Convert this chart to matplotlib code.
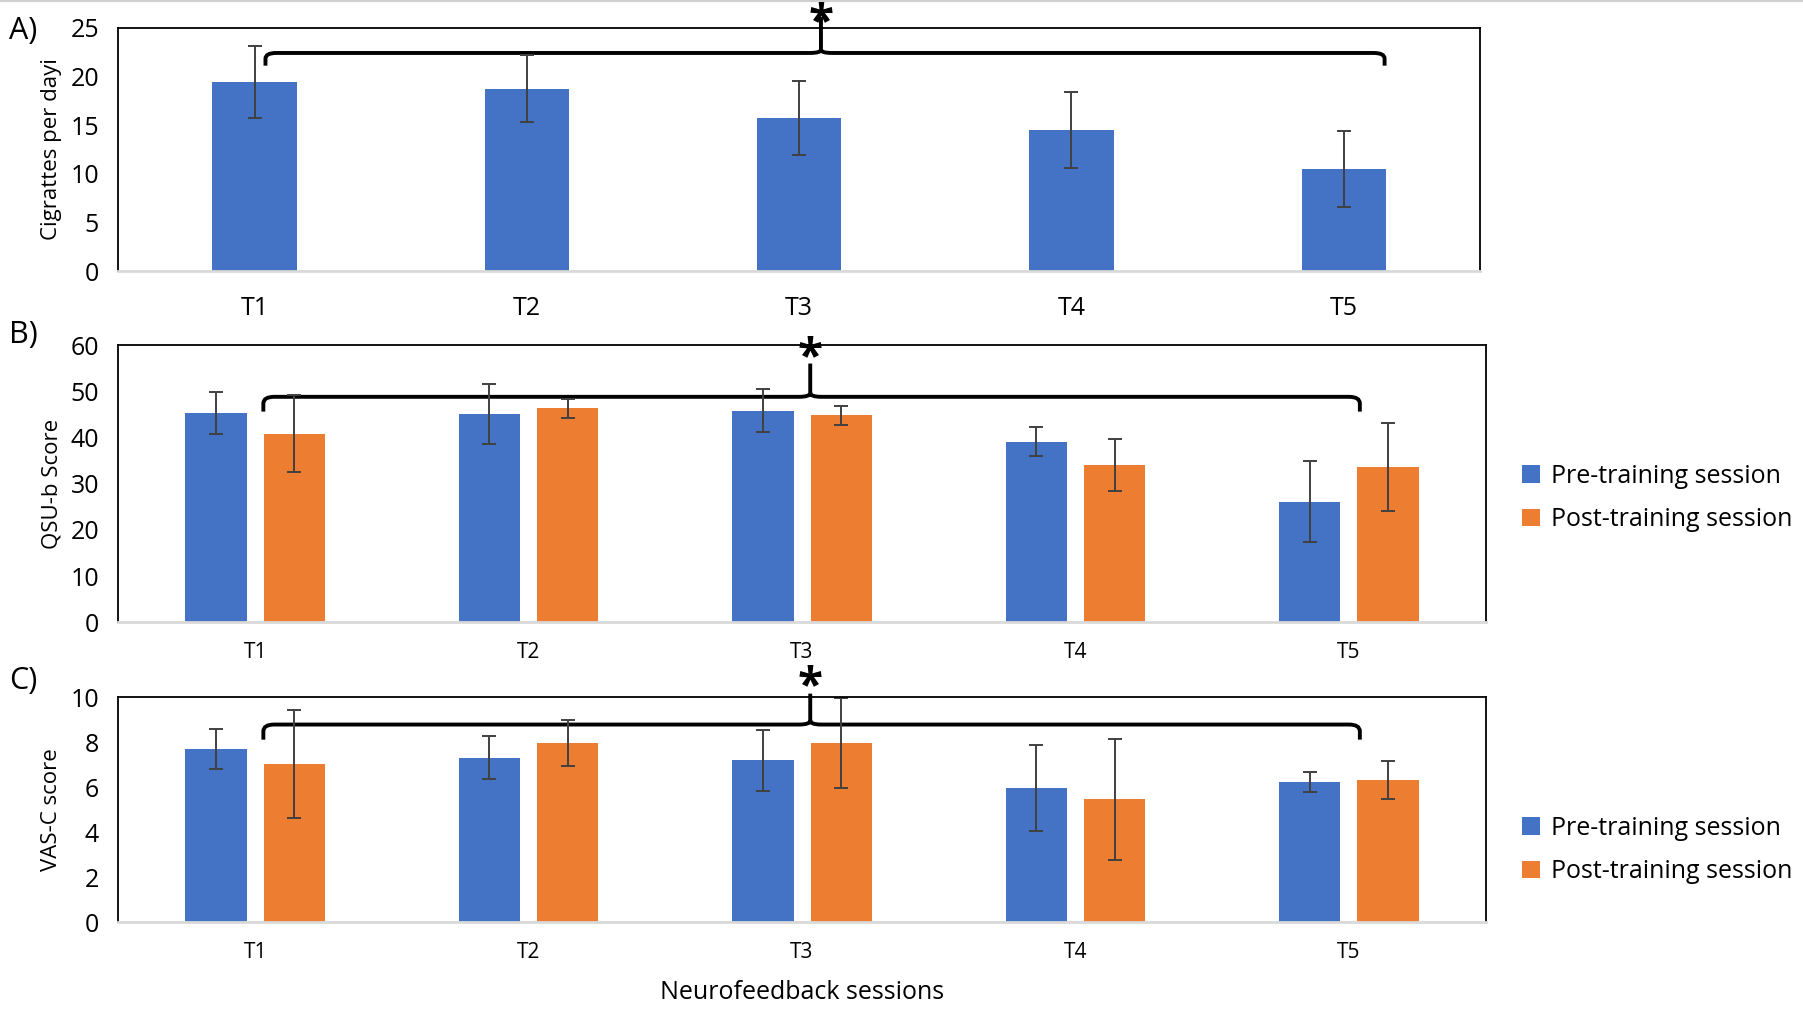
import matplotlib.pyplot as plt
from matplotlib.path import Path
from matplotlib.patches import PathPatch
from matplotlib.lines import Line2D
import numpy as np

plt.rcParams['font.family'] = ['Open Sans', 'DejaVu Sans']

# Data
sessions = ["T1", "T2", "T3", "T4", "T5"]

cig_mean = [19.4, 18.75, 15.7, 14.5, 10.5]
cig_err = [3.7, 3.4, 3.8, 3.9, 3.9]

qsu_pre = [45.3, 45.1, 45.8, 39.1, 26.1]
qsu_pre_err = [4.5, 6.5, 4.6, 3.2, 8.7]
qsu_post = [40.8, 46.3, 44.8, 34.1, 33.6]
qsu_post_err = [8.3, 2.1, 2.1, 5.6, 9.5]

vas_pre = [7.7, 7.3, 7.2, 5.97, 6.22]
vas_pre_err = [0.87, 0.95, 1.35, 1.9, 0.45]
vas_post = [7.04, 7.96, 7.96, 5.46, 6.33]
vas_post_err = [2.4, 1.0, 2.0, 2.7, 0.84]

blue = "#4472C4"
orange = "#ED7D31"
err_kw = dict(ecolor="#404040", elinewidth=1.4, capsize=5, capthick=1.4)

W, H = 1568, 892  # layout measured on this grid

fig = plt.figure(figsize=(18.03, 10.26), dpi=100)
# thin grey rule along the top edge
fig.add_artist(Line2D([0, 1], [0.999, 0.999], color="#d0d0d0", lw=1.5, transform=fig.transFigure))


def make_ax(left, right, top, bottom):
    ax = fig.add_axes([left / W, 1 - bottom / H, (right - left) / W, (bottom - top) / H])
    for s in ["left", "top", "right"]:
        ax.spines[s].set_color("black")
        ax.spines[s].set_linewidth(1.3)
    ax.spines["bottom"].set_color("#d9d9d9")
    ax.spines["bottom"].set_linewidth(2)
    ax.tick_params(length=0, labelsize=18)
    ax.tick_params(axis="y", pad=14)
    ax.set_xlim(-0.5, 4.5)
    return ax


def brace(ax, x0, x1, xm, y, drop, rise, dx=0.04):
    d1 = drop * 0.45
    verts = [(x0, y - drop), (x0, y - d1), (x0, y), (x0 + dx, y),
             (xm - dx, y), (xm, y), (xm, y + d1 * 0.6), (xm, y + rise),
             (xm, y + d1 * 0.6), (xm, y), (xm + dx, y),
             (x1 - dx, y), (x1, y), (x1, y - d1), (x1, y - drop)]
    codes = [Path.MOVETO, Path.LINETO, Path.CURVE3, Path.CURVE3,
             Path.LINETO, Path.CURVE3, Path.CURVE3, Path.LINETO,
             Path.MOVETO, Path.CURVE3, Path.CURVE3,
             Path.LINETO, Path.CURVE3, Path.CURVE3, Path.LINETO]
    ax.add_patch(PathPatch(Path(verts, codes), fill=False, lw=2.8,
                           color="black", clip_on=False, capstyle="butt"))


def star(ax, xm, y):
    ax.text(xm, y, "*", ha="center", va="center", fontsize=33, fontweight="bold", clip_on=False)


x = np.arange(len(sessions))

# Panel A
axA = make_ax(103, 1287, 24, 236)
axA.bar(x, cig_mean, 0.31, color=blue, yerr=cig_err, error_kw=err_kw)
axA.set_ylim(0, 25)
axA.set_yticks(range(0, 26, 5))
axA.set_xticks(x)
axA.set_xticklabels(sessions, fontsize=18)
axA.tick_params(axis="x", pad=18)
axA.set_ylabel("Cigrattes per dayi", fontsize=16, labelpad=6)
brace(axA, 0.04, 4.15, 2.08, 22.4, 1.3, 3.7)
star(axA, 2.08, 25.4)


def paired(ax, pre, pre_err, post, post_err, ymax, step, ylabel):
    off = 0.143
    w = 0.224
    ax.bar(x - off, pre, w, color=blue, yerr=pre_err, error_kw=err_kw, label="Pre-training session")
    ax.bar(x + off, post, w, color=orange, yerr=post_err, error_kw=err_kw, label="Post-training session")
    ax.set_ylim(0, ymax)
    ax.set_yticks(np.arange(0, ymax + step / 2, step))
    ax.set_xticks(x)
    ax.set_xticklabels(sessions, fontsize=15)
    ax.tick_params(axis="x", pad=14)
    ax.set_ylabel(ylabel, fontsize=16, labelpad=6)
    ax.legend(loc="center left", bbox_to_anchor=(1324 / W, 0), bbox_transform=fig.transFigure,
              frameon=False, fontsize=18, handlelength=0.7, handleheight=0.7, handletextpad=0.45,
              labelspacing=0.75, borderpad=0, borderaxespad=0)


# Panel B
axB = make_ax(103, 1292, 300, 541)
paired(axB, qsu_pre, qsu_pre_err, qsu_post, qsu_post_err, 60, 10, "QSU-b Score")
axB.get_legend().set_bbox_to_anchor((1324 / W, 1 - 433 / H), transform=fig.transFigure)
brace(axB, 0.03, 4.04, 2.03, 48.8, 3.2, 7.2)
star(axB, 2.03, 57.0)

# Panel C
axC = make_ax(103, 1292, 606, 802)
paired(axC, vas_pre, vas_pre_err, vas_post, vas_post_err, 10, 2, "VAS-C score")
axC.get_legend().set_bbox_to_anchor((1324 / W, 1 - 739 / H), transform=fig.transFigure)
brace(axC, 0.03, 4.04, 2.03, 8.78, 0.67, 1.37)
star(axC, 2.03, 10.41)
axC.set_xlabel("Neurofeedback sessions", fontsize=18, labelpad=12)

# Panel letters
fig.text(8 / W, 1 - 27 / H, "A)", fontsize=22, va="center")
fig.text(8 / W, 1 - 291 / H, "B)", fontsize=22, va="center")
fig.text(8 / W, 1 - 592 / H, "C)", fontsize=22, va="center")

plt.savefig("out.png", dpi=100)
